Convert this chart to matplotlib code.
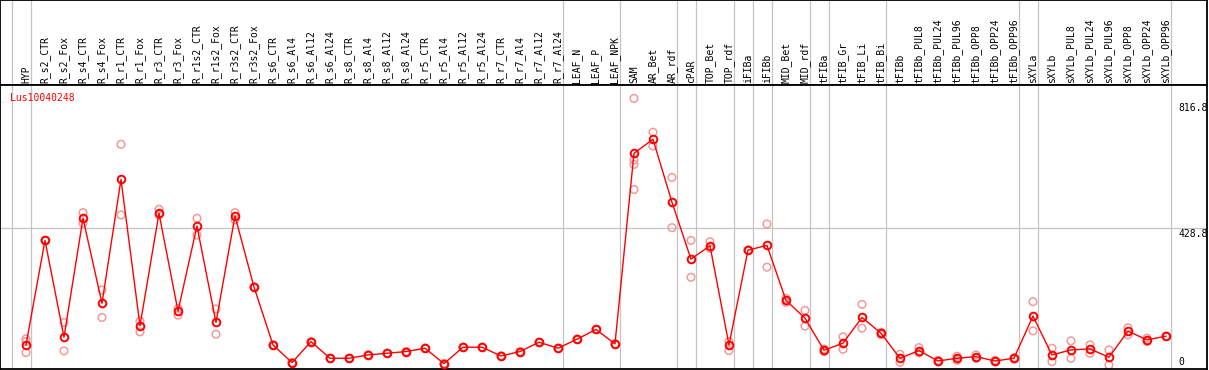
import matplotlib.pyplot as plt
import numpy as np

gene = 'Lus10040248'

samples = ['HYP', 'R_s2_CTR', 'R_s2_Fox', 'R_s4_CTR', 'R_s4_Fox', 'R_r1_CTR', 'R_r1_Fox',
           'R_r3_CTR', 'R_r3_Fox', 'R_r1s2_CTR', 'R_r1s2_Fox', 'R_r3s2_CTR', 'R_r3s2_Fox',
           'R_s6_CTR', 'R_s6_Al4', 'R_s6_Al12', 'R_s6_Al24', 'R_s8_CTR', 'R_s8_Al4',
           'R_s8_Al12', 'R_s8_Al24', 'R_r5_CTR', 'R_r5_Al4', 'R_r5_Al12', 'R_r5_Al24',
           'R_r7_CTR', 'R_r7_Al4', 'R_r7_Al12', 'R_r7_Al24', 'LEAF_N', 'LEAF_P', 'LEAF_NPK',
           'SAM', 'AR_Bet', 'AR_rdf', 'cPAR', 'TOP_Bet', 'TOP_rdf', 'iFIBa', 'iFIBb',
           'MID_Bet', 'MID_rdf', 'tFIBa', 'tFIB_Gr', 'tFIB_Li', 'tFIB_Bi', 'tFIBb',
           'tFIBb_PUL8', 'tFIBb_PUL24', 'tFIBb_PUL96', 'tFIBb_OPP8', 'tFIBb_OPP24',
           'tFIBb_OPP96', 'sXYLa', 'sXYLb', 'sXYLb_PUL8', 'sXYLb_PUL24', 'sXYLb_PUL96',
           'sXYLb_OPP8', 'sXYLb_OPP24', 'sXYLb_OPP96']

# mean expression per sample
means = [80, 392, 103, 458, 204, 574, 137, 473, 181, 435, 147, 465, 253,
         80, 27, 90, 40, 40, 50, 55, 60, 70, 24, 73, 73, 47, 60, 88, 70,
         97, 126, 83, 652, 694, 506, 336, 376, 80, 363, 377, 213, 160,
         64, 85, 162, 115, 40, 63, 32, 40, 45, 32, 40, 166, 50, 65, 68,
         43, 121, 95, 106]

# replicate values (light circles)
reps = [[98, 90, 57], [392, 392], [147, 62], [475, 443], [244, 162], [679, 468],
        [151, 119], [485, 468], [189, 169], [458, 408], [187, 112], [475, 453],
        [253, 253], [80, 80], [27, 27], [90, 90], [40, 40], [40, 40], [50, 50],
        [55, 55], [60, 60], [70, 70], [24, 24], [73, 73], [73, 73], [47, 47],
        [60, 60], [88, 88], [70, 70], [97, 97], [126, 126], [83, 83],
        [816, 632, 619, 544], [715, 674], [580, 430], [392, 282], [388, 368],
        [90, 63], [363, 363], [441, 312], [219, 207], [183, 136], [68, 60],
        [104, 67], [201, 130], [118, 111], [52, 28], [72, 56], [34, 30],
        [46, 34], [50, 40], [34, 30], [42, 38], [209, 122], [70, 30], [92, 40],
        [80, 55], [65, 20], [131, 110], [100, 90], [106, 106]]

# last sample index of each group (-1 = left edge)
group_ends = [-1, 0, 28, 31, 34, 35, 37, 38, 39, 41, 42, 45, 52, 53, 60]

ticks = [816.8, 428.8, 0]

x = np.arange(len(samples))
xlim = (-1.368, 62.16)
grey = '#c4c4c4'
mono = 'DejaVu Sans Mono'

fig = plt.figure(figsize=(12.09, 3.70), dpi=100)
head = fig.add_axes([0, 285 / 370, 1207 / 1209, 85 / 370])
ax = fig.add_axes([0, 1 / 370, 1207 / 1209, 284 / 370])

for a in (head, ax):
    a.set_xlim(xlim)
    a.set_xticks([])
    a.set_yticks([])
    for s in a.spines.values():
        s.set_color('black')
        s.set_linewidth(1.3)
    for g in group_ends:
        a.axvline(g + 0.24, color=grey, lw=0.9, zorder=0)

head.set_ylim(0, 1)
for xi, name in zip(x, samples):
    head.text(xi, 0.025, name, rotation=90, ha='center', va='bottom',
              fontsize=7, family=mono, color='black')

ax.set_ylim(8, 856)
ax.axhline(ticks[1], color=grey, lw=0.9, zorder=0)

for xi, r in zip(x, reps):
    ax.scatter([xi] * len(r), r, s=30, facecolors='none', edgecolors='#f29a9a',
               linewidths=1.1, zorder=2)

ax.plot(x, means, color='red', lw=1, marker='o', mfc='none', mec='red',
        ms=5.5, mew=1.4, zorder=3)

ax.text(0.008, 0.955, gene, transform=ax.transAxes, color='red',
        fontsize=7, family=mono, va='center', ha='left')

for frac, t in zip([0.919, 0.475, 0.025], ticks):
    ax.text(1171 / 1207 + 0.006, frac, ('%g' % t) if t == 0 else '%.1f' % t,
            transform=ax.transAxes, fontsize=7, family=mono,
            va='center', ha='left', clip_on=True)

fig.savefig('out.png', dpi=100)
